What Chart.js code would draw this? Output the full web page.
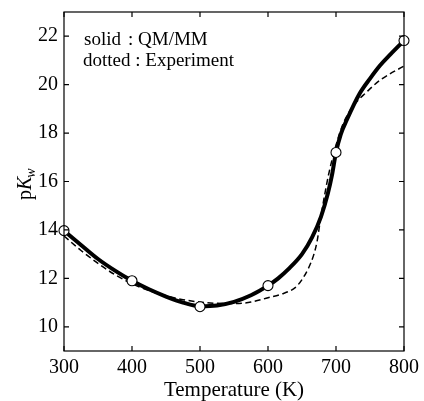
<!DOCTYPE html>
<html>
<head>
<meta charset="utf-8">
<script src="https://cdn.jsdelivr.net/npm/chart.js@4/dist/chart.umd.min.js"></script>
<style>
html,body{margin:0;padding:0;background:#fff;}
canvas{display:block;}
</style>
</head>
<body>
<canvas id="c" width="424" height="401"></canvas>
<script>
// QM/MM computed points (circles)
const qmTemps = [300, 400, 500, 600, 700, 800];
const qmPKw = [13.97, 11.9, 10.83, 11.7, 17.2, 21.82];
// Solid QM/MM curve
const solidTemps = [300, 325, 350, 375, 400, 425, 450, 475, 500, 525, 550, 575, 600, 615, 630, 650, 665, 678, 688, 694, 700, 707, 716, 735, 750, 765, 780, 800];
const solidPKw = [13.97, 13.38, 12.8, 12.32, 11.9, 11.55, 11.25, 11.0, 10.85, 10.88, 11.03, 11.3, 11.7, 12.0, 12.38, 13.0, 13.7, 14.55, 15.5, 16.25, 17.2, 17.95, 18.55, 19.64, 20.25, 20.8, 21.25, 21.82];
const expTemps = [300, 325, 350, 375, 400, 425, 450, 475, 500, 525, 550, 575, 600, 620, 640, 650, 660, 667, 672, 677, 683, 690, 700, 710, 720, 730, 743, 765, 800];
const expPKw = [13.75, 13.15, 12.62, 12.15, 11.78, 11.5, 11.28, 11.12, 11.02, 10.97, 10.96, 11.02, 11.2, 11.35, 11.62, 11.95, 12.45, 12.95, 13.5, 14.4, 15.4, 16.4, 17.5, 18.35, 18.9, 19.28, 19.64, 20.19, 20.77];
// Ticks
const xTicks = [300, 400, 500, 600, 700, 800];
const yTicks = [10, 12, 14, 16, 18, 20, 22];

const FONT = '"Liberation Serif", "DejaVu Serif", serif';
const toXY = (xs, ys) => xs.map((x, i) => ({x: x, y: ys[i]}));

const frame = {
  id: 'frame',
  afterDraw(chart) {
    const ctx = chart.ctx, a = chart.chartArea;
    const xs = chart.scales.x, ys = chart.scales.y;
    ctx.save();
    ctx.strokeStyle = '#000';
    ctx.lineWidth = 1.2;
    ctx.strokeRect(a.left, a.top, a.right - a.left, a.bottom - a.top);
    const L = 5;
    ctx.beginPath();
    xTicks.forEach(v => {
      const px = xs.getPixelForValue(v);
      ctx.moveTo(px, a.bottom); ctx.lineTo(px, a.bottom - L);
      ctx.moveTo(px, a.top); ctx.lineTo(px, a.top + L);
    });
    yTicks.forEach(v => {
      const py = ys.getPixelForValue(v);
      ctx.moveTo(a.left, py); ctx.lineTo(a.left + L, py);
      ctx.moveTo(a.right, py); ctx.lineTo(a.right - L, py);
    });
    ctx.stroke();
    // legend text
    ctx.fillStyle = '#000';
    ctx.textBaseline = 'middle';
    ctx.textAlign = 'left';
    ctx.font = '19px ' + FONT;
    ctx.fillText('solid', 84, 40);
    ctx.fillText(': QM/MM', 128, 40);
    ctx.fillText('dotted : Experiment', 83, 61);
    // y axis title pK_w
    ctx.translate(31, 200);
    ctx.rotate(-Math.PI / 2);
    ctx.textBaseline = 'alphabetic';
    ctx.font = '20px ' + FONT;
    ctx.fillText('p', 0, 0);
    let w = ctx.measureText('p').width;
    ctx.font = 'italic 20px ' + FONT;
    ctx.fillText('K', w, 0);
    w += ctx.measureText('K').width;
    ctx.font = 'italic 14px ' + FONT;
    ctx.fillText('w', w - 1, 4);
    ctx.restore();
  }
};

new Chart(document.getElementById('c'), {
  type: 'line',
  data: {
    datasets: [
      {
        label: 'QM/MM points',
        type: 'scatter',
        data: toXY(qmTemps, qmPKw),
        pointRadius: 5,
        pointBackgroundColor: '#fff',
        pointBorderColor: '#000',
        pointBorderWidth: 1.1,
        showLine: false,
        clip: false,
        order: 0
      },
      {
        label: 'QM/MM',
        data: toXY(solidTemps, solidPKw),
        borderColor: '#000',
        borderWidth: 4,
        pointRadius: 0,
        cubicInterpolationMode: 'monotone',
        fill: false,
        order: 1
      },
      {
        label: 'Experiment',
        data: toXY(expTemps, expPKw),
        borderColor: '#000',
        borderWidth: 1.5,
        borderDash: [6, 3.5],
        pointRadius: 0,
        cubicInterpolationMode: 'monotone',
        fill: false,
        order: 2
      }
    ]
  },
  options: {
    responsive: false,
    animation: false,
    devicePixelRatio: 1,
    layout: {padding: {left: 0, right: 20, top: 12, bottom: 0}},
    plugins: {legend: {display: false}, tooltip: {enabled: false}},
    scales: {
      x: {
        type: 'linear',
        min: 300, max: 800,
        afterFit(s) { s.height = 50; s.paddingLeft = 0; s.paddingRight = 0; },
        afterBuildTicks(s) { s.ticks = xTicks.map(v => ({value: v})); },
        grid: {display: false, drawTicks: false},
        border: {display: false},
        ticks: {color: '#000', font: {family: FONT, size: 20, lineHeight: 1.0}, padding: 7, maxRotation: 0},
        title: {display: true, text: 'Temperature (K)', color: '#000', font: {family: FONT, size: 21, lineHeight: 1.0}, padding: {top: 0, bottom: 0}}
      },
      y: {
        type: 'linear',
        min: 9, max: 23,
        afterFit(s) { s.width = 64; s.paddingTop = 0; s.paddingBottom = 0; },
        afterBuildTicks(s) { s.ticks = yTicks.map(v => ({value: v})); },
        grid: {display: false, drawTicks: false},
        border: {display: false},
        ticks: {color: '#000', font: {family: FONT, size: 20}, padding: 6}
      }
    }
  },
  plugins: [frame]
});
</script>
</body>
</html>
